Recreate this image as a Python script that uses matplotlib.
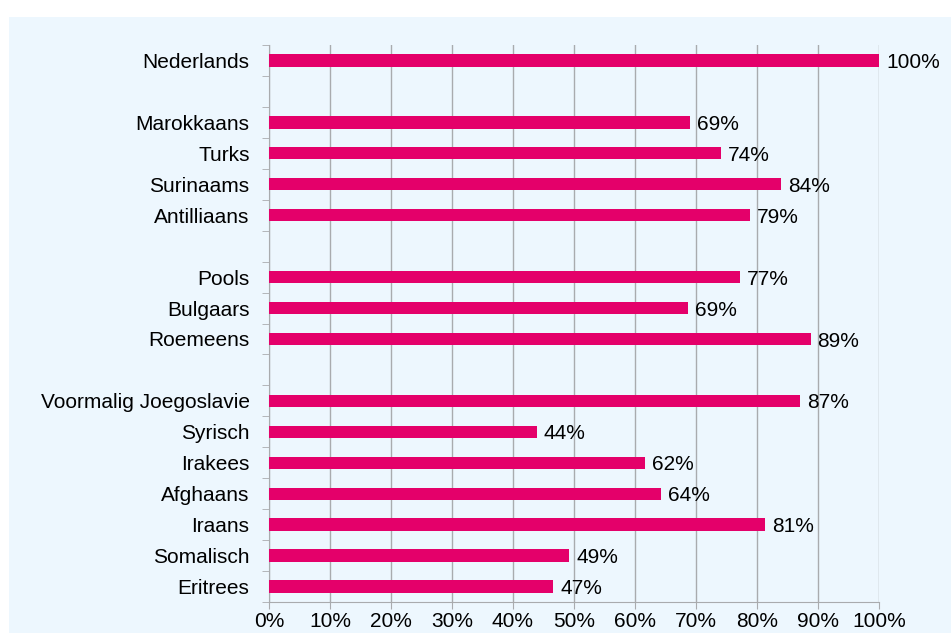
import matplotlib
matplotlib.use("Agg")
import matplotlib.pyplot as plt
from matplotlib.patches import Rectangle
import numpy as np

# groups of categories, separated by an empty row
groups = [
    ["Nederlands"],
    ["Marokkaans", "Turks", "Surinaams", "Antilliaans"],
    ["Pools", "Bulgaars", "Roemeens"],
    ["Voormalig Joegoslavie", "Syrisch", "Irakees", "Afghaans", "Iraans",
     "Somalisch", "Eritrees"],
]
values = [
    [100.0],
    [69.0, 74.1, 83.9, 78.8],
    [77.2, 68.7, 88.8],
    [87.0, 43.9, 61.6, 64.3, 81.3, 49.2, 46.6],
]
xticks = [0, 10, 20, 30, 40, 50, 60, 70, 80, 90, 100]

bar_color = "#E4006A"
bg_color = "#EDF7FE"
grid_color = "#A9ABAE"

plt.rcParams["font.family"] = ["Liberation Sans", "DejaVu Sans"]
fs = 15

fig = plt.figure(figsize=(9.51, 6.33), dpi=100)
fig.patches.append(Rectangle((9 / 951, 0), 1, 1 - 17 / 633,
                             transform=fig.transFigure,
                             facecolor=bg_color, edgecolor="none", zorder=-10))
ax = fig.add_axes([269 / 951, 1 - 602 / 633, 610 / 951, 557 / 633])
ax.set_facecolor(bg_color)

labels, vals, pos = [], [], []
row = 0
for gi, (names, vs) in enumerate(zip(groups, values)):
    if gi > 0:
        row += 1
    for n, v in zip(names, vs):
        labels.append(n)
        vals.append(v)
        pos.append(row)
        row += 1
nrows = row

ax.barh(pos, vals, height=0.4, color=bar_color, zorder=3)
for p, v in zip(pos, vals):
    ax.annotate(f"{round(v):.0f}%", (v, p), xytext=(5, -1.5),
                textcoords="offset points", va="center", ha="left",
                fontsize=fs, zorder=4)

ax.set_ylim(nrows - 0.5, -0.5)
ax.set_xlim(0, 100)
ax.set_yticks(pos)
ax.set_yticklabels(labels, fontsize=fs)
ax.set_yticks(np.arange(-0.5, nrows, 1), minor=True)
ax.tick_params(axis="y", which="major", length=0, pad=14)
ax.tick_params(axis="y", which="minor", length=5, color=grid_color)

ax.set_xticks(xticks)
ax.set_xticklabels([f"{t}%" for t in xticks], fontsize=fs)
ax.tick_params(axis="x", length=5, color=grid_color, pad=2)
ax.grid(axis="x", color=grid_color, linewidth=1, zorder=1)

for side in ["top", "right"]:
    ax.spines[side].set_visible(False)
for side in ["left", "bottom"]:
    ax.spines[side].set_color(grid_color)

fig.savefig("out.png", dpi=100)
